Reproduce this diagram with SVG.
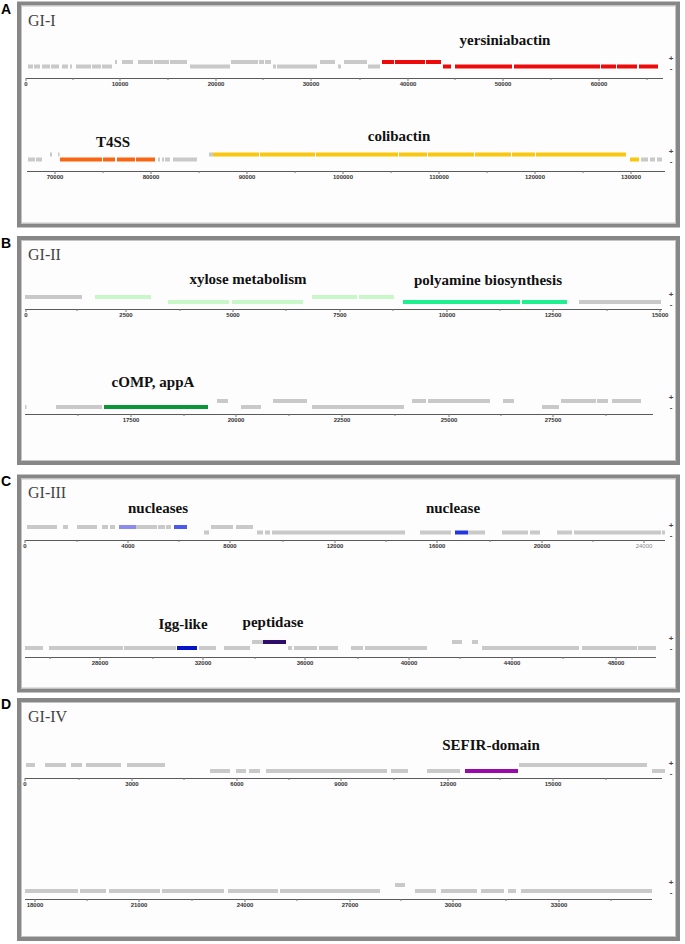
<svg xmlns="http://www.w3.org/2000/svg" width="685" height="944" viewBox="0 0 685 944">
<style>
.bg{fill:#ffffff}
.frame{fill:#fdfdfd;stroke:#878787;stroke-width:4}
.inner{fill:none;stroke:#c4c4c4;stroke-width:1}
.gy{fill:#c9c9c9}
.red{fill:#ee0a0a}
.org{fill:#f86614}
.yel{fill:#f9c80e}
.lg{fill:#c8f8c8}
.sg{fill:#1ef090}
.dg{fill:#0a9636}
.lb{fill:#8c8cf0}
.mb{fill:#4c58ee}
.bl{fill:#2236e0}
.db{fill:#0614c8}
.dp{fill:#2e0c6c}
.pu{fill:#9a0aaa}
.lbl{font-family:"Liberation Serif",serif;font-weight:bold;font-size:15px;fill:#111;text-anchor:middle}
.gi{font-family:"Liberation Serif",serif;font-size:16px;fill:#444}
.tk{font-family:"Liberation Sans",sans-serif;font-weight:bold;font-size:6px;fill:#333;text-anchor:middle}
.tkl{font-family:"Liberation Sans",sans-serif;font-size:6px;fill:#888;text-anchor:middle}
.pm{font-family:"Liberation Sans",sans-serif;font-weight:bold;font-size:8px;fill:#444;text-anchor:middle}
.pn{font-family:"Liberation Sans",sans-serif;font-weight:bold;font-size:14px;fill:#000}
.ax{stroke:#5a5a5a;stroke-width:1;fill:none}
.tick{stroke:#777;stroke-width:1;fill:none}
</style>
<rect class="bg" x="0" y="0" width="685" height="944"/>

<!-- Panel A -->
<g id="panelA">
<text class="pn" x="1" y="14">A</text>
<rect class="frame" x="19" y="3.5" width="659" height="222"/>
<rect class="inner" x="21.5" y="6" width="654" height="217"/>
<text class="gi" x="28" y="26">GI-I</text>
<g id="A-row1">
<rect class="gy" x="28" y="64.5" width="5" height="4"/><rect class="gy" x="34" y="64.5" width="6" height="4"/>
<rect class="gy" x="42" y="64.5" width="8" height="4"/><rect class="gy" x="51" y="64.5" width="8" height="4"/>
<rect class="gy" x="62" y="64.5" width="6" height="4"/><rect class="gy" x="70" y="64.5" width="2" height="4"/>
<rect class="gy" x="76" y="64.5" width="15" height="4"/><rect class="gy" x="92" y="64.5" width="9" height="4"/>
<rect class="gy" x="102" y="64.5" width="10" height="4"/>
<rect class="gy" x="115" y="60" width="2" height="4"/><rect class="gy" x="122" y="60" width="11" height="4"/>
<rect class="gy" x="138" y="60" width="15" height="4"/><rect class="gy" x="154" y="60" width="15" height="4"/>
<rect class="gy" x="170" y="60" width="17" height="4"/>
<rect class="gy" x="190" y="64.5" width="40" height="4"/>
<rect class="gy" x="231" y="60" width="27" height="4"/><rect class="gy" x="259" y="60" width="5" height="4"/>
<rect class="gy" x="265" y="60" width="6" height="4"/>
<rect class="gy" x="273" y="64.5" width="3" height="4"/><rect class="gy" x="277" y="64.5" width="40" height="4"/>
<rect class="gy" x="320" y="60" width="15" height="4"/><rect class="gy" x="338" y="64.5" width="3" height="4"/>
<rect class="gy" x="344" y="60" width="23" height="4"/><rect class="gy" x="368" y="64.5" width="12" height="4"/>
<rect class="red" x="382" y="60" width="12" height="4"/><rect class="red" x="395" y="60" width="30" height="4"/>
<rect class="red" x="426" y="60" width="15" height="4"/>
<rect class="red" x="443" y="64.5" width="8" height="4"/><rect class="red" x="455" y="64.5" width="57" height="4"/>
<rect class="red" x="514" y="64.5" width="86" height="4"/><rect class="red" x="601" y="64.5" width="15" height="4"/>
<rect class="red" x="617" y="64.5" width="20" height="4"/><rect class="red" x="639" y="64.5" width="19" height="4"/>
</g>
<text class="lbl" x="505" y="45">yersiniabactin</text>
<text class="pm" x="671" y="61">+</text><text class="pm" x="671" y="71">-</text>
<g id="A-row2">
<rect class="gy" x="28" y="157.5" width="7" height="4"/><rect class="gy" x="36" y="157.5" width="6" height="4"/>
<rect class="gy" x="50" y="152.5" width="2" height="4"/><rect class="gy" x="58" y="152.5" width="1.5" height="4"/>
<rect class="org" x="60" y="157.5" width="42" height="4"/><rect class="org" x="103" y="157.5" width="12" height="4"/>
<rect class="org" x="117" y="157.5" width="18" height="4"/><rect class="org" x="136" y="157.5" width="19" height="4"/>
<rect class="gy" x="158" y="157.5" width="2" height="4"/><rect class="gy" x="162" y="157.5" width="2" height="4"/>
<rect class="gy" x="165" y="157.5" width="5" height="4"/><rect class="gy" x="173" y="157.5" width="24" height="4"/>
<rect class="gy" x="209" y="152.5" width="4" height="4"/>
<rect class="yel" x="213" y="152.5" width="46" height="4"/><rect class="yel" x="260" y="152.5" width="55" height="4"/>
<rect class="yel" x="316" y="152.5" width="82" height="4"/><rect class="yel" x="399" y="152.5" width="28" height="4"/>
<rect class="yel" x="428" y="152.5" width="46" height="4"/><rect class="yel" x="475" y="152.5" width="36" height="4"/>
<rect class="yel" x="512" y="152.5" width="23" height="4"/><rect class="yel" x="536" y="152.5" width="90" height="4"/>
<rect class="yel" x="630" y="157.5" width="9" height="4"/>
<rect class="gy" x="641" y="157.5" width="7" height="4"/><rect class="gy" x="650" y="157.5" width="5" height="4"/>
<rect class="gy" x="657" y="157.5" width="5" height="4"/>
</g>
<text class="lbl" x="113" y="147">T4SS</text>
<text class="lbl" x="399" y="141">colibactin</text>
<text class="pm" x="671" y="154">+</text><text class="pm" x="671" y="164">-</text>
</g>

<!-- Panel B -->
<g id="panelB">
<text class="pn" x="1" y="248">B</text>
<rect class="frame" x="19" y="238" width="659" height="225"/>
<rect class="inner" x="21.5" y="240.5" width="654" height="220"/>
<text class="gi" x="28" y="260">GI-II</text>
<g id="B-row1">
<rect class="gy" x="25" y="295" width="57" height="4"/>
<rect class="lg" x="95" y="295" width="56" height="4"/>
<rect class="lg" x="168" y="300" width="61" height="4"/><rect class="lg" x="232" y="300" width="71" height="4"/>
<rect class="lg" x="312" y="295" width="45" height="4"/><rect class="lg" x="359" y="295" width="35" height="4"/>
<rect class="sg" x="403" y="300" width="117" height="4"/><rect class="sg" x="522" y="300" width="45" height="4"/>
<rect class="gy" x="579" y="300" width="82" height="4"/>
</g>
<text class="lbl" x="248" y="284">xylose metabolism</text>
<text class="lbl" x="488" y="285">polyamine biosynthesis</text>
<text class="pm" x="671" y="297">+</text><text class="pm" x="671" y="307">-</text>
<g id="B-row2">
<rect class="gy" x="25" y="405" width="1.5" height="4"/>
<rect class="gy" x="56" y="405" width="46" height="4"/>
<rect class="dg" x="104" y="405" width="104" height="4"/>
<rect class="gy" x="217" y="399" width="11" height="4"/>
<rect class="gy" x="241" y="405" width="20" height="4"/>
<rect class="gy" x="273" y="399" width="34" height="4"/>
<rect class="gy" x="312" y="405" width="92" height="4"/>
<rect class="gy" x="412" y="399" width="14" height="4"/><rect class="gy" x="428" y="399" width="62" height="4"/>
<rect class="gy" x="503" y="399" width="11" height="4"/>
<rect class="gy" x="542" y="405" width="17" height="4"/>
<rect class="gy" x="561" y="399" width="35" height="4"/><rect class="gy" x="597" y="399" width="11" height="4"/>
<rect class="gy" x="612" y="399" width="29" height="4"/>
</g>
<text class="lbl" x="153" y="387">cOMP, appA</text>
<text class="pm" x="671" y="400">+</text><text class="pm" x="671" y="410">-</text>
</g>

<!-- Panel C -->
<g id="panelC">
<text class="pn" x="1" y="486">C</text>
<rect class="frame" x="19" y="476.5" width="659" height="214"/>
<rect class="inner" x="21.5" y="479" width="654" height="209"/>
<text class="gi" x="28" y="498">GI-III</text>
<g id="C-row1">
<rect class="gy" x="27" y="525" width="30" height="4"/><rect class="gy" x="63" y="525" width="5" height="4"/>
<rect class="gy" x="77" y="525" width="20" height="4"/><rect class="gy" x="102" y="525" width="6" height="4"/>
<rect class="gy" x="110" y="525" width="5" height="4"/>
<rect class="lb" x="119" y="525" width="17" height="4"/>
<rect class="gy" x="136" y="525" width="21" height="4"/><rect class="gy" x="158" y="525" width="7" height="4"/>
<rect class="gy" x="166" y="525" width="5" height="4"/>
<rect class="mb" x="174" y="525" width="13" height="4"/>
<rect class="gy" x="204" y="530.5" width="5" height="4"/>
<rect class="gy" x="211" y="525" width="22" height="4"/><rect class="gy" x="236" y="525" width="17" height="4"/>
<rect class="gy" x="257" y="530.5" width="6" height="4"/><rect class="gy" x="265" y="530.5" width="5" height="4"/>
<rect class="gy" x="272" y="530.5" width="133" height="4"/>
<rect class="gy" x="420" y="530.5" width="31" height="4"/>
<rect class="bl" x="455" y="530.5" width="13" height="4"/>
<rect class="gy" x="468" y="530.5" width="17" height="4"/>
<rect class="gy" x="502" y="530.5" width="26" height="4"/><rect class="gy" x="530" y="530.5" width="10" height="4"/>
<rect class="gy" x="557" y="530.5" width="15" height="4"/><rect class="gy" x="574" y="530.5" width="87" height="4"/>
<rect class="gy" x="662" y="530.5" width="3" height="4"/>
</g>
<text class="lbl" x="158" y="513">nucleases</text>
<text class="lbl" x="453" y="513">nuclease</text>
<text class="pm" x="671" y="528">+</text><text class="pm" x="671" y="538">-</text>
<g id="C-row2">
<rect class="gy" x="25" y="646" width="18" height="4"/><rect class="gy" x="49" y="646" width="74" height="4"/>
<rect class="gy" x="124" y="646" width="52" height="4"/>
<rect class="db" x="177" y="646" width="20" height="4"/>
<rect class="gy" x="199" y="646" width="17" height="4"/><rect class="gy" x="224" y="646" width="26" height="4"/>
<rect class="gy" x="252" y="640" width="11" height="4"/>
<rect class="dp" x="263" y="640" width="23" height="4"/>
<rect class="gy" x="288" y="646" width="4" height="4"/><rect class="gy" x="294" y="646" width="23" height="4"/>
<rect class="gy" x="319" y="646" width="19" height="4"/>
<rect class="gy" x="351" y="646" width="12" height="4"/><rect class="gy" x="365" y="646" width="62" height="4"/>
<rect class="gy" x="452" y="640" width="10" height="4"/><rect class="gy" x="472" y="640" width="6" height="4"/>
<rect class="gy" x="482" y="646" width="97" height="4"/><rect class="gy" x="582" y="646" width="55" height="4"/>
<rect class="gy" x="638" y="646" width="18" height="4"/>
</g>
<text class="lbl" x="183" y="629">Igg-like</text>
<text class="lbl" x="273" y="627">peptidase</text>
<text class="pm" x="671" y="641">+</text><text class="pm" x="671" y="651">-</text>
</g>

<!-- Panel D -->
<g id="panelD">
<text class="pn" x="1" y="709">D</text>
<rect class="frame" x="19" y="700" width="659" height="239"/>
<rect class="inner" x="21.5" y="702.5" width="654" height="234"/>
<text class="gi" x="28" y="722">GI-IV</text>
<g id="D-row1">
<rect class="gy" x="26" y="763" width="9" height="4"/><rect class="gy" x="45" y="763" width="21" height="4"/>
<rect class="gy" x="71" y="763" width="11" height="4"/><rect class="gy" x="86" y="763" width="35" height="4"/>
<rect class="gy" x="127" y="763" width="38" height="4"/>
<rect class="gy" x="210" y="769" width="20" height="4"/><rect class="gy" x="236" y="769" width="10" height="4"/>
<rect class="gy" x="249" y="769" width="11" height="4"/><rect class="gy" x="266" y="769" width="121" height="4"/>
<rect class="gy" x="391" y="769" width="17" height="4"/><rect class="gy" x="427" y="769" width="33" height="4"/>
<rect class="pu" x="465" y="769" width="53" height="4"/>
<rect class="gy" x="519" y="763" width="128" height="4"/>
<rect class="gy" x="652" y="769" width="13" height="4"/>
</g>
<text class="lbl" x="491" y="750">SEFIR-domain</text>
<text class="pm" x="671" y="766">+</text><text class="pm" x="671" y="776">-</text>
<g id="D-row2">
<rect class="gy" x="25" y="889" width="53" height="4"/><rect class="gy" x="80" y="889" width="26" height="4"/>
<rect class="gy" x="109" y="889" width="51" height="4"/><rect class="gy" x="162" y="889" width="62" height="4"/>
<rect class="gy" x="228" y="889" width="50" height="4"/><rect class="gy" x="280" y="889" width="100" height="4"/>
<rect class="gy" x="395" y="883" width="10" height="4"/>
<rect class="gy" x="415" y="889" width="21" height="4"/><rect class="gy" x="441" y="889" width="36" height="4"/>
<rect class="gy" x="481" y="889" width="23" height="4"/><rect class="gy" x="508" y="889" width="8" height="4"/>
<rect class="gy" x="521" y="889" width="131" height="4"/>
</g>
<text class="pm" x="671" y="885">+</text><text class="pm" x="671" y="895">-</text>
</g>

<!-- Axes (scale bars) -->
<g id="axes">
<path class="ax" d="M26 78.5H663 M27 171.5H665 M25 309.5H662 M25 414.5H653 M25 540.5H665 M25 657.5H656 M25 778.5H662 M25 899.5H652"/>
<path class="tick" d="M26 78v3M73 78v2M120 78v3M168 78v2M216 78v3M263 78v2M311 78v3M360 78v2M408 78v3M455 78v2M503 78v3M551 78v2M599 78v3M647 78v2
M55 171v3M103 171v2M151 171v3M199 171v2M247 171v3M295 171v2M343 171v3M391 171v2M439 171v3M487 171v2M535 171v3M583 171v2M631 171v3
M26 309v3M77 309v2M126 309v3M180 309v2M233 309v3M286 309v2M340 309v3M393 309v2M447 309v3M500 309v2M553 309v3M607 309v2M660 309v3
M78 414v2M131 414v3M184 414v2M236 414v3M289 414v2M342 414v3M395 414v2M449 414v3M501 414v2M553 414v3M606 414v2
M25 540v3M77 540v2M128 540v3M179 540v2M230 540v3M283 540v2M335 540v3M386 540v2M437 540v3M490 540v2M542 540v3M593 540v2M644 540v3
M50 657v2M100 657v3M153 657v2M203 657v3M255 657v2M305 657v3M358 657v2M409 657v3M460 657v2M512 657v3M563 657v2M616 657v3
M25 778v3M79 778v2M132 778v3M184 778v2M237 778v3M289 778v2M341 778v3M394 778v2M448 778v3M500 778v2M553 778v3M606 778v2
M35 899v3M87 899v2M139 899v3M192 899v2M245 899v3M297 899v2M350 899v3M401 899v2M453 899v3M506 899v2M559 899v3M611 899v2"/>
<g id="ticklabels">
<text class="tk" x="26" y="86">0</text><text class="tk" x="120" y="86">10000</text><text class="tk" x="216" y="86">20000</text><text class="tk" x="311" y="86">30000</text><text class="tk" x="408" y="86">40000</text><text class="tk" x="503" y="86">50000</text><text class="tk" x="599" y="86">60000</text>
<text class="tk" x="55" y="179">70000</text><text class="tk" x="151" y="179">80000</text><text class="tk" x="247" y="179">90000</text><text class="tk" x="343" y="179">100000</text><text class="tk" x="439" y="179">110000</text><text class="tk" x="535" y="179">120000</text><text class="tk" x="631" y="179">130000</text>
<text class="tk" x="26" y="317">0</text><text class="tk" x="126" y="317">2500</text><text class="tk" x="233" y="317">5000</text><text class="tk" x="340" y="317">7500</text><text class="tk" x="447" y="317">10000</text><text class="tk" x="553" y="317">12500</text><text class="tk" x="660" y="317">15000</text>
<text class="tk" x="131" y="422">17500</text><text class="tk" x="236" y="422">20000</text><text class="tk" x="342" y="422">22500</text><text class="tk" x="449" y="422">25000</text><text class="tk" x="553" y="422">27500</text>
<text class="tk" x="25" y="548">0</text><text class="tk" x="128" y="548">4000</text><text class="tk" x="230" y="548">8000</text><text class="tk" x="335" y="548">12000</text><text class="tk" x="437" y="548">16000</text><text class="tk" x="542" y="548">20000</text><text class="tkl" x="644" y="548">24000</text>
<text class="tk" x="100" y="665">28000</text><text class="tk" x="203" y="665">32000</text><text class="tk" x="305" y="665">36000</text><text class="tk" x="409" y="665">40000</text><text class="tk" x="512" y="665">44000</text><text class="tk" x="616" y="665">48000</text>
<text class="tk" x="25" y="786">0</text><text class="tk" x="132" y="786">3000</text><text class="tk" x="237" y="786">6000</text><text class="tk" x="341" y="786">9000</text><text class="tk" x="448" y="786">12000</text><text class="tk" x="553" y="786">15000</text>
<text class="tk" x="35" y="907">18000</text><text class="tk" x="139" y="907">21000</text><text class="tk" x="245" y="907">24000</text><text class="tk" x="350" y="907">27000</text><text class="tk" x="453" y="907">30000</text><text class="tk" x="559" y="907">33000</text>
</g>
</g>
</svg>
